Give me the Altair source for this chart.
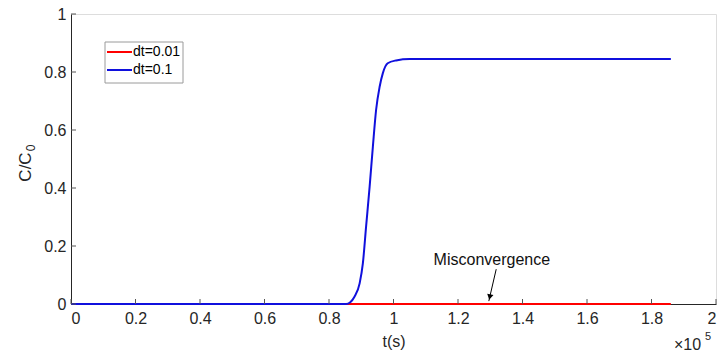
import altair as alt
import pandas as pd

# ---- data ----
t_blue = [0, 85300, 86600, 87900, 89500, 90500, 91500, 92600, 93600, 94600,
          95700, 96700, 98200, 100800, 105000, 186000]
c_blue = [0, 0, 0.006, 0.025, 0.071, 0.14, 0.267, 0.405, 0.542, 0.669,
          0.749, 0.796, 0.830, 0.840, 0.845, 0.845]
t_red = [0, 186000]
c_red = [0, 0]
series_names = ["dt=0.01", "dt=0.1"]
series_colors = ["#ff0000", "#1010dd"]

x_ticks = [0, 20000, 40000, 60000, 80000, 100000, 120000, 140000, 160000, 180000, 200000]
y_ticks = [0, 0.2, 0.4, 0.6, 0.8, 1.0]

annot_text = "Misconvergence"
annot_t, annot_c = 130500, 0.152
arrow_t = [131850, 129550]
arrow_c = [0.120, 0.010]
head_t, head_c = 129850, 0.024

W, H = 645, 290
FONT = "Liberation Sans"
AX = "#262626"

xs = alt.Scale(domain=[0, 200000], nice=False, zero=False)
ys = alt.Scale(domain=[0, 1], nice=False)

red_df = pd.DataFrame({"t": t_red, "c": c_red})
blue_df = pd.DataFrame({"t": t_blue, "c": c_blue})

x_axis = alt.Axis(
    values=x_ticks, labelExpr="format(datum.value/100000, '~g')",
    ticks=False, grid=False, domainColor=AX, labelColor=AX,
    labelFont=FONT, labelFontSize=16, labelPadding=6,
    title="t(s)", titleFont=FONT, titleFontSize=16, titleFontWeight="normal",
    titleColor=AX, titlePadding=7,
)
y_axis = alt.Axis(
    values=y_ticks, format="~g",
    ticks=False, grid=False, domainColor=AX, labelColor=AX,
    labelFont=FONT, labelFontSize=16, labelPadding=5, title=None,
)

red = alt.Chart(red_df).mark_line(strokeWidth=2, color=series_colors[0]).encode(
    x=alt.X("t:Q", scale=xs, axis=x_axis),
    y=alt.Y("c:Q", scale=ys, axis=y_axis),
)
blue = alt.Chart(blue_df).mark_line(strokeWidth=2, interpolate="monotone",
                                    color=series_colors[1]).encode(
    x=alt.X("t:Q", scale=xs), y=alt.Y("c:Q", scale=ys),
)

xt = alt.Chart(pd.DataFrame({"t": x_ticks})).mark_rule(color="#555", strokeWidth=1).encode(
    x=alt.X("t:Q", scale=xs), y=alt.value(H), y2=alt.value(H - 5),
)
yt = alt.Chart(pd.DataFrame({"c": y_ticks})).mark_rule(color="#555", strokeWidth=1).encode(
    y=alt.Y("c:Q", scale=ys), x=alt.value(0), x2=alt.value(5),
)

txt = alt.Chart(pd.DataFrame({"t": [annot_t], "c": [annot_c], "s": [annot_text]})).mark_text(
    font=FONT, fontSize=16, color="#111", align="center", baseline="middle",
).encode(x=alt.X("t:Q", scale=xs), y=alt.Y("c:Q", scale=ys), text="s:N")

arrow = alt.Chart(pd.DataFrame({"t": [arrow_t[0]], "c": [arrow_c[0]],
                                "t2": [arrow_t[1]], "c2": [arrow_c[1]]})).mark_rule(
    color="black", strokeWidth=1,
).encode(x=alt.X("t:Q", scale=xs), y=alt.Y("c:Q", scale=ys), x2="t2:Q", y2="c2:Q")

head = alt.Chart(pd.DataFrame({"t": [head_t], "c": [head_c]})).mark_point(
    shape="triangle-down", filled=True, color="black", size=40, angle=12, opacity=1,
).encode(x=alt.X("t:Q", scale=xs), y=alt.Y("c:Q", scale=ys))

# y-axis title C/C0 with subscript
one = pd.DataFrame({"a": [0]})
ytitle = alt.Chart(one).mark_text(
    font=FONT, fontSize=17, color=AX, angle=270, align="center", baseline="middle", text="C/C",
).encode(x=alt.value(-45), y=alt.value(153))
ysub = alt.Chart(one).mark_text(
    font=FONT, fontSize=12, color=AX, angle=270, align="center", baseline="middle", text="0",
).encode(x=alt.value(-40), y=alt.value(134))

# x10^5 multiplier
exp_base = alt.Chart(one).mark_text(
    font=FONT, fontSize=16, color=AX, align="left", baseline="alphabetic", text="×10",
).encode(x=alt.value(603), y=alt.value(336))
exp_sup = alt.Chart(one).mark_text(
    font=FONT, fontSize=11, color=AX, align="left", baseline="alphabetic", text="5",
).encode(x=alt.value(634), y=alt.value(326))

# legend box
leg_box = alt.Chart(one).mark_rect(fill="white", stroke="#9a9a9a", strokeWidth=1).encode(
    x=alt.value(34), x2=alt.value(112), y=alt.value(28), y2=alt.value(69),
)
leg_layers = [leg_box]
for i, (name, col) in enumerate(zip(series_names, series_colors)):
    yy = 38 + 18 * i
    leg_layers.append(alt.Chart(one).mark_rule(color=col, strokeWidth=2).encode(
        x=alt.value(36), x2=alt.value(61), y=alt.value(yy)))
    leg_layers.append(alt.Chart(one).mark_text(
        font=FONT, fontSize=14, color="black", align="left", baseline="middle", text=name,
    ).encode(x=alt.value(62), y=alt.value(yy)))

chart = alt.layer(red, blue, xt, yt, arrow, head, txt, ytitle, ysub, exp_base, exp_sup,
                  *leg_layers).properties(
    width=W, height=H,
    autosize=alt.AutoSizeParams(type="none"),
    padding={"left": 71, "top": 14, "right": 2, "bottom": 50},
).configure_view(stroke=None).configure(background="white")

chart.save("out.html", embed_options={"renderer": "svg", "actions": False})
